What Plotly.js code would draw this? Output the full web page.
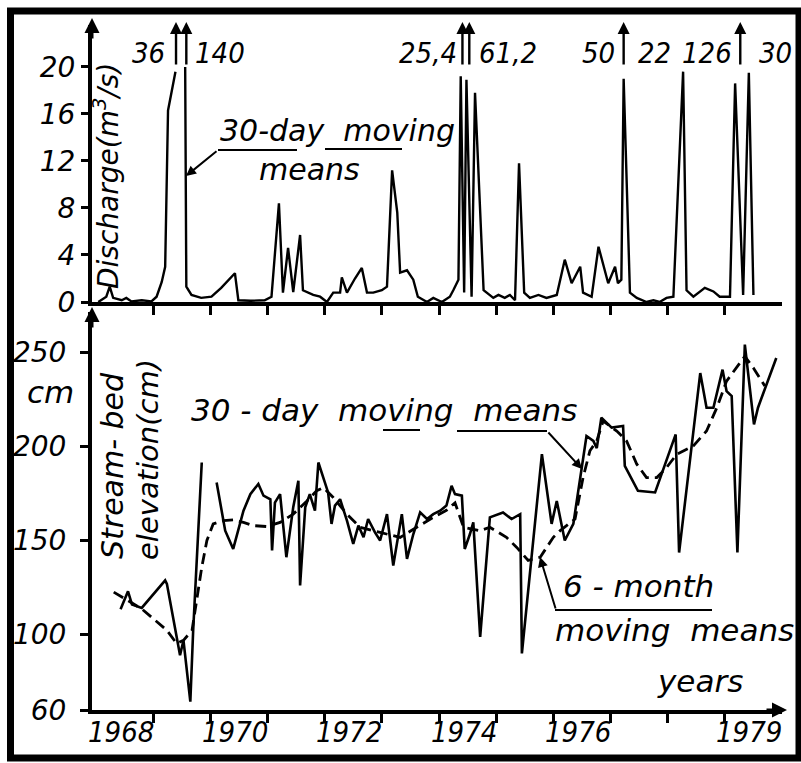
<!DOCTYPE html>
<html><head><meta charset="utf-8">
<script src="https://cdn.plot.ly/plotly-3.0.1.min.js"></script>
<style>html,body{margin:0;padding:0;background:#fff}</style>
</head><body><div id="chart" style="width:801px;height:763px"></div>
<script>
// ---------- DATA ----------
// Upper panel: discharge, 30-day moving means (m3/s); very high peaks drawn truncated as in original
const dischargeYears = [1968.04,1968.18,1968.24,1968.30,1968.45,1968.53,1968.62,1968.80,1968.97,1969.06,1969.15,1969.21,1969.26,1969.39,1969.47,1969.56,1969.58,1969.67,1969.84,1970.02,1970.19,1970.43,1970.49,1970.70,1970.95,1971.07,1971.20,1971.27,1971.36,1971.45,1971.57,1971.62,1971.80,1971.92,1972.04,1972.15,1972.27,1972.30,1972.39,1972.53,1972.65,1972.74,1972.85,1973.00,1973.09,1973.18,1973.27,1973.32,1973.44,1973.55,1973.63,1973.79,1973.90,1974.05,1974.19,1974.25,1974.34,1974.38,1974.44,1974.48,1974.57,1974.63,1974.78,1974.95,1975.04,1975.15,1975.24,1975.33,1975.40,1975.49,1975.59,1975.74,1975.88,1976.06,1976.20,1976.32,1976.47,1976.52,1976.67,1976.79,1976.96,1977.08,1977.13,1977.19,1977.23,1977.34,1977.46,1977.63,1977.75,1977.86,1977.98,1978.10,1978.27,1978.33,1978.45,1978.65,1978.80,1978.91,1979.09,1979.18,1979.32,1979.42,1979.50];
const dischargeValues = [0,0.45,1.3,0.35,0.15,0.35,0.05,0.15,0.05,0.45,1.7,3.0,16.3,19.6,null,20.0,1.3,0.6,0.35,0.45,1.2,2.45,0.15,0.1,0.15,0.45,8.4,0.8,4.6,0.85,5.7,1.0,0.6,0.45,0,0.8,0.8,2.1,0.8,2.0,2.9,0.8,0.8,1.0,1.3,11.2,7.6,2.5,2.7,1.9,0.45,0,0.35,0,0.45,1.0,1.9,19.2,0.8,18.9,0.45,17.8,1.0,0.35,0.6,0.35,0.6,0.15,11.8,0.8,0.35,0.6,0.35,0.6,3.6,1.6,3.0,0.8,0.45,4.7,1.6,3.0,1.6,1.9,19.0,0.8,0.35,0,0.15,0,0.35,0.45,19.6,1.0,0.45,1.2,0.9,0.45,0.45,18.6,0.6,19.5,0.6];

// Off-scale peak values (m3/s) and where they occur
const peakLabels = ['36','140','25,4','61,2','50','22','126','30'];
const peakYears  = [1969.40,1969.58,1974.41,1974.53,1977.23,1978.27,1979.27,1979.42];
const peakHasArrow = [true,true,true,true,true,false,true,false];

// Lower panel: stream-bed elevation (cm), 30-day moving means
const bedYears = [1968.43,1968.56,1968.63,1968.80,1969.21,1969.24,1969.47,1969.53,1969.65,1969.70,1969.85,1969.98,1970.11,1970.26,1970.40,1970.58,1970.70,1970.84,1970.93,1971.05,1971.08,1971.13,1971.22,1971.33,1971.45,1971.54,1971.57,1971.66,1971.74,1971.83,1971.89,1971.98,1972.06,1972.12,1972.18,1972.27,1972.39,1972.50,1972.59,1972.68,1972.76,1972.88,1972.97,1973.09,1973.20,1973.35,1973.44,1973.55,1973.67,1973.79,1973.90,1974.02,1974.13,1974.22,1974.28,1974.40,1974.45,1974.54,1974.60,1974.72,1974.89,1975.12,1975.27,1975.42,1975.45,1975.80,1975.97,1976.06,1976.20,1976.35,1976.58,1976.70,1976.76,1976.84,1977.02,1977.22,1977.25,1977.48,1977.78,1978.14,1978.20,1978.57,1978.68,1978.80,1978.96,1979.03,1979.12,1979.22,1979.35,1979.51,1979.58,1979.90];
const bedValues = [113.5,123,116,114.2,128.8,127,89.1,97,64.4,102.3,191.4,null,180.8,155.2,145.5,165.8,174.6,180,173.8,171.9,144.7,170.1,174.6,141.1,167.6,181.7,126.1,167.6,174.6,165.8,191.4,183.4,175.5,158.8,168.5,171.9,160.5,148.2,157.9,151.7,161.4,154.3,150,164,136.7,164,140.2,153.3,164.9,161.4,164,165.8,168.5,179,174.6,173.8,145.5,153.3,159.6,98.8,162.3,164.9,161.4,164,90,195.8,158.8,171,150,158.8,205.5,202.9,199,215.2,209.9,210.8,189.6,176.4,175.5,206.3,143.6,238.9,220.5,220.5,240.7,229.3,226.7,143.6,254,211.6,220.5,246.9];

// Lower panel: 6-month moving means (cm)
const bedMeanYears = [1968.31,1968.80,1969.24,1969.41,1969.53,1969.68,1969.85,1969.94,1970.05,1970.23,1970.40,1970.58,1970.75,1970.99,1971.22,1971.45,1971.69,1971.86,1971.98,1972.15,1972.39,1972.62,1972.97,1973.32,1973.61,1973.90,1974.13,1974.28,1974.43,1974.72,1974.89,1975.18,1975.36,1975.56,1975.77,1976.00,1976.12,1976.38,1976.52,1976.64,1976.76,1976.87,1977.11,1977.28,1977.46,1977.63,1977.81,1977.98,1978.16,1978.45,1978.68,1978.86,1979.03,1979.20,1979.35,1979.50,1979.70];
const bedMeanValues = [122.6,113.7,102.3,95.3,97,102.3,135.8,150,158.8,160.5,160.9,159.6,157.9,157.4,159.6,164,171,176.4,178.1,172.8,164,157,154.3,151.6,157,162.3,166,170,157,155.2,157,151.7,146.3,139.4,141.1,151.7,155.2,161.4,183.4,197.6,202.9,213.4,208.1,202.9,190.5,183.4,183.4,188.7,195.8,200.2,208.1,220.5,234.6,241.6,247.8,241.6,232];

// Axis ticks and labels
const yearTicks = [1969,1970,1971,1972,1973,1974,1975,1976,1977,1978,1979];
const yearLabels = ['1968','1970','1972','1974','1976','1979'];
const dischargeTicks = [0,4,8,12,16,20];
const bedTicks = [60,100,150,200,250];

// ---------- LAYOUT HELPERS ----------
const PL=92, PR=782, PT=25, PB=710;
const px = v => (v-PL)/(PR-PL);
const py = v => (PB-v)/(PB-PT);
const FONT = 'DejaVu Sans, sans-serif';
const NARROW = 'Liberation Sans Narrow, DejaVu Sans Condensed, sans-serif';
const ital = (size, fam) => ({family: fam||FONT, size: size, color:'#000', style:'italic'});

const traces = [
  {x: dischargeYears, y: dischargeValues, xaxis:'x2', yaxis:'y2', type:'scatter', mode:'lines',
   line:{color:'#000', width:2.4}, connectgaps:false, hoverinfo:'skip'},
  {x: bedMeanYears, y: bedMeanValues, xaxis:'x', yaxis:'y', type:'scatter', mode:'lines',
   line:{color:'#000', width:2.8, dash:'11px,6px'}, hoverinfo:'skip'},
  {x: bedYears, y: bedValues, xaxis:'x', yaxis:'y', type:'scatter', mode:'lines',
   line:{color:'#000', width:2.6}, connectgaps:false, hoverinfo:'skip'}
];

const axisCommon = {showgrid:false, zeroline:false, showline:true, linecolor:'#000', linewidth:4,
  ticks:'outside', tickcolor:'#000', tickwidth:3, fixedrange:true};

const annotations = [];
// year labels
const yearLabelOffset = 0.43;
yearLabels.forEach(t => annotations.push({xref:'x', yref:'paper', x: Number(t)+yearLabelOffset, y: py(732),
  text:t, showarrow:false, font: ital(29, NARROW), xanchor:'center', yanchor:'middle'}));
// peak arrows and labels
const labelSide = ['right','left','right','left','right','right','right','left'];
const labelShift = [-9,7,-3,8,-7,-10,-6,8];
peakLabels.forEach((t,i) => {
  if (peakHasArrow[i]) annotations.push({xref:'x', yref:'paper', x: peakYears[i], y: py(22), text:'',
    showarrow:true, arrowhead:2, arrowsize:1, arrowwidth:2.4, arrowcolor:'#000', ax:0, ay:44});
  annotations.push({xref:'x', yref:'paper', x: peakYears[i], y: py(53), text:t, showarrow:false,
    font: ital(29, NARROW), xanchor: labelSide[i]==='right'?'right':'left', xshift: labelShift[i], yanchor:'middle'});
});
// axis arrowheads
annotations.push({xref:'paper', yref:'paper', x:0, y:py(18), text:'', showarrow:true, arrowhead:2, arrowsize:1, arrowwidth:3, arrowcolor:'#000', ax:0, ay:22});
annotations.push({xref:'paper', yref:'paper', x:0, y:py(307), text:'', showarrow:true, arrowhead:2, arrowsize:1, arrowwidth:3, arrowcolor:'#000', ax:0, ay:22});
annotations.push({xref:'paper', yref:'paper', x:px(787), y:py(710), text:'', showarrow:true, arrowhead:2, arrowsize:1, arrowwidth:3, arrowcolor:'#000', ax:-22, ay:0});
// axis titles
annotations.push({xref:'paper', yref:'paper', x:px(106), y:py(176), text:'Discharge(m<sup>3</sup>/s)', textangle:-90,
  showarrow:false, font: ital(28), xanchor:'center', yanchor:'middle'});
annotations.push({xref:'paper', yref:'paper', x:px(112), y:py(466), text:'Stream- bed', textangle:-90,
  showarrow:false, font: ital(30), xanchor:'center', yanchor:'middle'});
annotations.push({xref:'paper', yref:'paper', x:px(148), y:py(460), text:'elevation(cm)', textangle:-90,
  showarrow:false, font: ital(29), xanchor:'center', yanchor:'middle'});
annotations.push({xref:'paper', yref:'paper', x:px(50), y:py(392), text:'cm', showarrow:false, font: ital(31), xanchor:'center', yanchor:'middle'});
// in-plot labels
annotations.push({xref:'paper', yref:'paper', x:px(337), y:py(130), text:'30-day  moving', showarrow:false, font: ital(30), xanchor:'center', yanchor:'middle'});
annotations.push({xref:'paper', yref:'paper', x:px(309), y:py(170), text:'means', showarrow:false, font: ital(30), xanchor:'center', yanchor:'middle'});
annotations.push({xref:'paper', yref:'paper', x:px(384), y:py(410), text:'30 - day  moving  means', showarrow:false, font: ital(31), xanchor:'center', yanchor:'middle'});
annotations.push({xref:'paper', yref:'paper', x:px(638), y:py(586), text:'6 - month', showarrow:false, font: ital(31), xanchor:'center', yanchor:'middle'});
annotations.push({xref:'paper', yref:'paper', x:px(674), y:py(630), text:'moving  means', showarrow:false, font: ital(31), xanchor:'center', yanchor:'middle'});
annotations.push({xref:'paper', yref:'paper', x:px(700), y:py(681), text:'years', showarrow:false, font: ital(31), xanchor:'center', yanchor:'middle'});
// leader arrowheads
annotations.push({xref:'paper', yref:'paper', x:px(186), y:py(176), text:'', showarrow:true, arrowhead:2, arrowsize:1, arrowwidth:2, arrowcolor:'#000', ax:32, ay:-26});
annotations.push({xref:'paper', yref:'paper', x:px(582), y:py(469), text:'', showarrow:true, arrowhead:2, arrowsize:1, arrowwidth:2, arrowcolor:'#000', ax:-35, ay:-38});
annotations.push({xref:'paper', yref:'paper', x:px(540), y:py(557), text:'', showarrow:true, arrowhead:2, arrowsize:1, arrowwidth:2, arrowcolor:'#000', ax:16, ay:53});

const seg = (x0,y0,x1,y1,w) => ({type:'line', xref:'paper', yref:'paper', x0:px(x0), y0:py(y0), x1:px(x1), y1:py(y1), line:{color:'#000', width:w||2}});
const shapes = [
  {type:'rect', xref:'paper', yref:'paper', x0:px(10.5), x1:px(799), y0:py(758), y1:py(11), line:{color:'#000', width:7}, fillcolor:'rgba(0,0,0,0)'},
  seg(218,150,297,150), seg(325,149,402,149),
  seg(383,430,420,430), seg(457,431,547,431),
  seg(555,610,712,610)
];

const layout = {
  width:801, height:763, paper_bgcolor:'#fff', plot_bgcolor:'#fff', showlegend:false,
  margin:{l:PL, r:801-PR, t:PT, b:763-PB, pad:0},
  xaxis: Object.assign({}, axisCommon, {domain:[0,1], range:[1967.93,1980], anchor:'y', tickvals:yearTicks, showticklabels:false, ticklen:9}),
  yaxis: Object.assign({}, axisCommon, {domain:[0,(PB-312)/(PB-PT)], range:[60,271.3], anchor:'x', tickvals:bedTicks, ticklen:8,
    ticklabelstandoff:8, tickfont: ital(28)}),
  xaxis2: Object.assign({}, axisCommon, {domain:[0,1], range:[1967.93,1980], anchor:'y2', tickvals:yearTicks, showticklabels:false, ticklen:9}),
  yaxis2: Object.assign({}, axisCommon, {domain:[(PB-302)/(PB-PT),1], range:[0,23.57], anchor:'x2', tickvals:dischargeTicks, ticklen:7,
    tickfont: ital(28)}),
  annotations: annotations,
  shapes: shapes
};

Plotly.newPlot('chart', traces, layout, {staticPlot:true, displayModeBar:false});
</script>
</body></html>
